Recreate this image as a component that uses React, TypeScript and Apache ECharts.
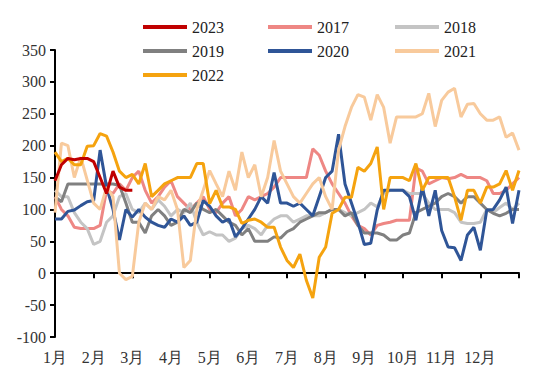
import React, { useEffect, useRef } from "react";
import * as echarts from "echarts";

const months = ["1月", "2月", "3月", "4月", "5月", "6月", "7月", "8月", "9月", "10月", "11月", "12月"];
const PER_MONTH = 6;

const s2023 = [145, 170, 180, 178, 180, 180, 175, 150, 125, 160, 135, 130, 130];
const s2017 = [120, 100, 90, 72, 70, 70, 70, 75, 130, 125, 140, 130, 150, 160, 130, 110, 120, 135, 145, 120, 110, 100, 110, 120, 100, 95, 110, 120, 90, 100, 120, 115, 120, 125, 135, 150, 150, 150, 150, 150, 195, 185, 160, 140, 125, 110, 90, 75, 70, 60, 75, 78, 80, 83, 83, 83, 165, 160, 140, 145, 150, 148, 150, 155, 150, 150, 150, 145, 125, 125, 130, 140, 150];
const s2018 = [130, 120, 120, 95, 80, 70, 45, 50, 80, 90, 120, 125, 100, 95, 110, 100, 115, 105, 90, 100, 95, 110, 80, 60, 65, 60, 60, 50, 55, 70, 75, 70, 60, 75, 85, 90, 90, 80, 85, 90, 90, 90, 95, 100, 100, 95, 90, 95, 100, 110, 104, 125, 130, 130, 130, 125, 125, 125, 110, 100, 100, 100, 95, 80, 78, 78, 80, 100, 95, 103, 110, 100, 110];
const s2019 = [120, 112, 140, 140, 140, 140, 140, 140, 140, 140, 138, 110, 80, 80, 63, 90, 100, 90, 75, 80, 100, 95, 110, 100, 95, 100, 90, 80, 75, 60, 70, 50, 50, 50, 57, 55, 65, 70, 80, 85, 90, 95, 95, 100, 100, 90, 95, 75, 63, 63, 63, 60, 52, 52, 60, 63, 95, 100, 105, 110, 120, 125, 120, 110, 120, 120, 110, 100, 94, 90, 94, 100, 100];
const s2020 = [85, 85, 97, 99, 106, 112, 114, 193, 135, 100, 52, 100, 88, 100, 88, 80, 75, 72, 85, 80, 90, 75, 80, 114, 105, 90, 80, 85, 57, 70, 85, 100, 120, 110, 158, 110, 110, 105, 110, 100, 90, 120, 150, 160, 218, 140, 110, 80, 45, 47, 99, 130, 130, 130, 130, 120, 83, 135, 90, 130, 67, 41, 40, 20, 60, 72, 36, 99, 100, 115, 135, 78, 130];
const s2021 = [95, 204, 200, 150, 182, 146, 110, 100, 135, 120, 0, -10, -5, 80, 110, 100, 120, 115, 130, 100, 9, 20, 100, 130, 161, 140, 120, 160, 130, 190, 150, 170, 120, 150, 208, 160, 140, 120, 110, 125, 140, 150, 120, 100, 193, 230, 260, 280, 276, 240, 280, 260, 204, 245, 245, 245, 245, 250, 282, 230, 271, 284, 290, 245, 265, 266, 250, 240, 240, 245, 213, 220, 193];
const s2022 = [190, 175, 180, 170, 170, 199, 200, 219, 215, 190, 160, 150, 155, 140, 172, 120, 130, 140, 145, 150, 150, 150, 172, 172, 109, 130, 104, 104, 100, 78, 83, 85, 80, 72, 72, 41, 20, 9, 30, -11, -39, 25, 41, 94, 100, 119, 119, 166, 160, 172, 198, 100, 150, 150, 150, 145, 172, 130, 150, 150, 150, 150, 120, 83, 130, 130, 110, 135, 135, 140, 161, 130, 161];

const yMin = -100;
const yMax = 350;
const yStep = 50;

const categories: string[] = [];
for (let m = 0; m < months.length; m++) {
  for (let k = 0; k < PER_MONTH; k++) categories.push(k === 0 ? months[m] : "");
}
categories.push("");

const seriesDefs = [
  { name: "2017", data: s2017, color: "#EE8784" },
  { name: "2018", data: s2018, color: "#C4C4C4" },
  { name: "2019", data: s2019, color: "#808080" },
  { name: "2020", data: s2020, color: "#2F5597" },
  { name: "2021", data: s2021, color: "#F8CA9C" },
  { name: "2022", data: s2022, color: "#F5A30F" },
  { name: "2023", data: s2023, color: "#C00000" },
];

const font = "'Liberation Serif', 'Times New Roman', serif";

export default function App() {
  const ref = useRef<HTMLDivElement>(null);
  useEffect(() => {
    if (!ref.current) return;
    const chart = echarts.init(ref.current, null, { renderer: "svg" });
    const legendBase = {
      orient: "vertical",
      top: 14,
      itemWidth: 44,
      itemHeight: 10,
      itemGap: 8,
      icon: "path://M0,0 L44,0 L44,4 L0,4 Z",
      textStyle: { fontFamily: font, fontSize: 16, color: "#222" },
    };
    chart.setOption({
      animation: false,
      backgroundColor: "#fff",
      textStyle: { fontFamily: font },
      legend: [
        { ...legendBase, left: 138, data: ["2023", "2019", "2022"] },
        { ...legendBase, left: 263, data: ["2017", "2020"] },
        { ...legendBase, left: 390, data: ["2018", "2021"] },
      ],
      grid: { left: 55, right: 31, top: 50, bottom: 50, containLabel: false },
      xAxis: {
        type: "category",
        data: categories,
        boundaryGap: false,
        axisLine: { lineStyle: { color: "#000", width: 2 } },
        axisTick: { interval: PER_MONTH - 1, length: 5, lineStyle: { color: "#000", width: 2 } },
        axisLabel: { interval: PER_MONTH - 1, margin: 12, fontFamily: font, fontSize: 16, color: "#333" },
        splitLine: { show: false },
      },
      yAxis: {
        type: "value",
        min: yMin,
        max: yMax,
        interval: yStep,
        axisLine: { show: true, lineStyle: { color: "#000", width: 2 } },
        axisTick: { show: true, length: 5, lineStyle: { color: "#000", width: 2 } },
        axisLabel: { margin: 9, fontFamily: font, fontSize: 16, color: "#333" },
        splitLine: { show: false },
      },
      series: seriesDefs.map((s) => ({
        name: s.name,
        type: "line",
        data: s.data,
        showSymbol: false,
        symbol: "none",
        lineStyle: { width: 3, color: s.color },
        itemStyle: { color: s.color },
      })),
    });
    return () => chart.dispose();
  }, []);
  return <div ref={ref} style={{ width: 550, height: 387, margin: -8 }} />;
}
